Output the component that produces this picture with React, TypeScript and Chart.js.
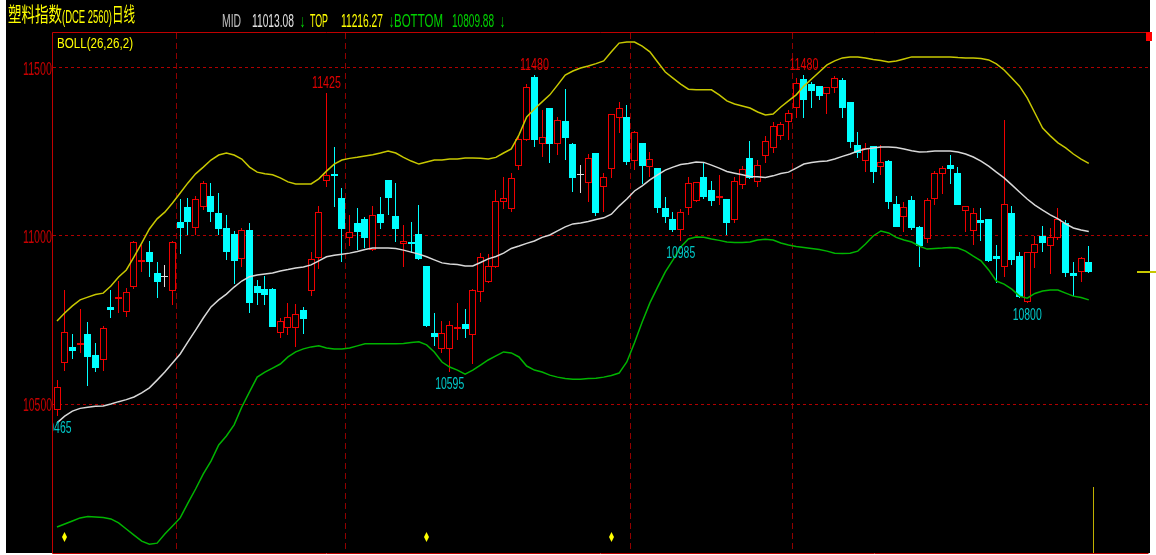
import React, { useEffect, useRef } from 'react';
import { Chart, registerables } from 'chart.js';

Chart.register(...registerables);

// ---- data ----
const open = [10482,10623,10671,10676,10707,10646,10631,10790,10812,10775,10847,10922,10953,10891,10879,10837,11043,11087,11025,11087,11120,11068,11023,11006,10931,11018,10851,10841,10841,10710,10727,10726,10780,10836,10935,11164,11185,11112,10993,11038,11051,10958,11064,11167,11060,10975,10981,11006,10912,10711,10664,10664,10722,10737,10704,10832,10864,10907,11102,11080,11209,11286,11472,11274,11380,11273,11342,11273,11182,11159,11248,11147,11199,11352,11355,11224,11276,11204,11203,11084,11051,11018,11082,11105,11177,11137,11114,11110,11048,11152,11231,11162,11238,11263,11298,11340,11380,11467,11452,11447,11422,11441,11464,11398,11271,11224,11269,11204,11224,11095,11057,11107,11028,10991,11110,11184,11211,11187,11074,11016,11048,11051,10940,10907,11068,10940,10805,10950,11001,10971,10993,11040,10891,10894,10924];
const high = [10571,10839,10708,10782,10744,10681,10732,10839,10867,10844,10986,10972,10986,10924,10913,10985,11109,11112,11119,11165,11157,11129,11062,11015,11023,11040,10869,10881,10844,10755,10802,10798,10788,10953,11089,11425,11264,11142,11062,11084,11057,11089,11117,11167,11157,11033,11043,11092,10912,10770,10748,10747,10801,10782,10842,10948,10946,11137,11176,11187,11296,11451,11480,11375,11380,11355,11437,11276,11211,11244,11248,11187,11362,11400,11390,11312,11277,11251,11203,11117,11072,11080,11176,11161,11216,11164,11182,11110,11176,11208,11284,11226,11298,11340,11340,11375,11469,11480,11459,11447,11444,11477,11471,11398,11309,11276,11269,11271,11226,11119,11102,11119,11030,11114,11193,11208,11241,11206,11090,11084,11084,11051,10973,11345,11090,10953,10952,11000,11031,11023,11084,11048,10924,10938,10970];
const low = [10465,10598,10634,10653,10554,10594,10598,10755,10770,10760,10842,10894,10879,10815,10847,10795,10946,11003,11003,11077,11043,11003,10929,10857,10909,10770,10795,10795,10728,10696,10705,10669,10708,10822,10901,11147,11087,10922,10971,10958,10965,10956,11020,11062,10983,10909,10950,10929,10728,10673,10651,10595,10690,10696,10619,10803,10859,10904,11080,11072,11196,11283,11266,11236,11216,11241,11226,11132,11127,11100,11060,11072,11173,11306,11211,11196,11155,11176,11068,11038,11011,10985,11062,11102,11110,11090,11092,11003,11038,11140,11170,11147,11216,11246,11286,11286,11350,11350,11382,11405,11362,11425,11350,11263,11231,11191,11157,11182,11079,11026,11011,11018,10909,10978,11092,11125,11155,11092,11013,10973,10985,10924,10859,10877,10914,10815,10800,10904,10953,10886,10988,10879,10822,10864,10889];
const close = [10552,10714,10659,10682,10639,10606,10727,10780,10818,10833,10981,10929,10922,10864,10879,10981,11023,11041,11111,11157,11072,11020,10953,10926,11018,10802,10831,10824,10730,10747,10760,10767,10753,10931,11070,11181,11180,11020,11013,11011,10995,11062,11040,11114,11020,10984,10975,10931,10732,10700,10710,10735,10728,10724,10839,10937,10912,11104,11112,11173,11288,11443,11286,11296,11273,11345,11291,11172,11182,11231,11068,11177,11362,11382,11219,11309,11208,11229,11084,11056,11018,11070,11157,11160,11117,11104,11120,11038,11165,11198,11172,11211,11284,11328,11332,11365,11454,11405,11432,11417,11443,11471,11380,11281,11248,11263,11191,11219,11102,11028,11087,11023,10970,11107,11187,11201,11198,11092,11090,11068,11040,10926,10931,11094,10929,10818,10951,10976,10978,10998,11050,10889,10881,10935,10892];

const bollMid = [10444,10464,10479,10487,10490,10493,10494,10500,10507,10513,10521,10533,10548,10571,10595,10622,10649,10685,10720,10756,10789,10810,10827,10848,10866,10879,10884,10887,10890,10896,10900,10905,10908,10914,10926,10938,10943,10946,10949,10954,10960,10964,10964,10964,10963,10958,10952,10946,10938,10929,10920,10917,10915,10911,10911,10921,10932,10939,10949,10963,10970,10978,10985,10996,11003,11015,11027,11036,11039,11043,11049,11054,11065,11089,11110,11134,11149,11167,11182,11196,11205,11213,11216,11220,11219,11211,11202,11192,11187,11182,11177,11176,11174,11179,11186,11190,11202,11214,11219,11222,11223,11229,11237,11244,11253,11259,11262,11265,11265,11263,11259,11254,11250,11251,11253,11253,11253,11250,11244,11235,11223,11208,11190,11173,11152,11131,11110,11092,11077,11063,11051,11036,11024,11018,11013.08];
const bollUpper = [10747,10771,10792,10810,10818,10826,10830,10851,10878,10899,10938,10979,11021,11051,11071,11098,11128,11158,11185,11205,11226,11241,11247,11241,11229,11205,11190,11185,11182,11173,11161,11155,11155,11155,11170,11193,11214,11226,11231,11234,11238,11242,11247,11253,11247,11234,11223,11214,11220,11226,11226,11229,11229,11232,11232,11231,11229,11234,11247,11259,11301,11354,11378,11399,11420,11449,11479,11491,11500,11506,11513,11521,11548,11574,11577,11577,11565,11548,11518,11488,11470,11452,11437,11435,11435,11435,11420,11402,11393,11387,11381,11369,11360,11363,11384,11402,11420,11446,11467,11488,11509,11521,11530,11533,11533,11530,11525,11522,11518,11521,11527,11533,11533,11533,11533,11533,11533,11531,11530,11530,11528,11524,11512,11494,11470,11446,11411,11366,11321,11298,11277,11262,11244,11229,11216.27];
const bollLower = [10134,10143,10152,10161,10165,10164,10162,10158,10146,10128,10110,10092,10083,10086,10113,10137,10161,10205,10247,10292,10330,10378,10405,10438,10491,10536,10580,10595,10607,10619,10640,10655,10664,10670,10673,10667,10664,10664,10667,10673,10679,10679,10679,10679,10679,10680,10683,10685,10676,10655,10625,10610,10601,10589,10601,10616,10631,10643,10655,10652,10640,10613,10601,10595,10586,10580,10576,10574,10574,10576,10577,10580,10585,10592,10625,10682,10744,10801,10848,10893,10929,10967,10991,10997,10996,10991,10987,10982,10981,10981,10982,10988,10990,10988,10979,10973,10969,10966,10963,10960,10955,10949,10948,10949,10955,10976,11000,11015,11009,10996,10988,10982,10970,10961,10963,10964,10966,10964,10955,10940,10926,10899,10866,10857,10842,10821,10815,10829,10836,10839,10839,10830,10821,10817,10809.88];

const yTicks = [10500, 11000, 11500];
const periodBreaks = [16.5, 38.5, 75.5, 96.5];
const peakIdx = [36, 63, 98];
const troughIdx = [1, 52, 82, 127];
const signalIdx = [2, 49, 73];
const titleParts = ['塑料指数', '(DCE 2560)', '日线'];
const headerLabels = ['MID', 'TOP', 'BOTTOM'];
const headerValues = ['11013.08', '11216.27', '10809.88'];
const indicatorName = 'BOLL(26,26,2)';

const UP = '#f00000';
const DOWN = '#00ffff';
const DOJI = '#e0e0e0';
const LATIN = '"Liberation Sans", "DejaVu Sans", sans-serif';
const CJK = '"Noto Sans CJK SC", sans-serif';

function fitText(ctx: CanvasRenderingContext2D, text: string, x: number, baseline: number, width: number, font: string, color: string) {
  ctx.save();
  ctx.font = font;
  const w = ctx.measureText(text).width || 1;
  ctx.translate(x, baseline);
  ctx.scale(width / w, 1);
  ctx.fillStyle = color;
  ctx.textAlign = 'left';
  ctx.textBaseline = 'alphabetic';
  ctx.fillText(text, 0, 0);
  ctx.restore();
}

// snap bar elements to whole pixels so candles stay crisp
const snapPlugin = {
  id: 'snap',
  afterDatasetsUpdate(chart: any) {
    chart.data.datasets.forEach((_: any, di: number) => {
      const meta = chart.getDatasetMeta(di);
      if (meta.type !== 'bar') return;
      meta.data.forEach((el: any) => {
        el.x = Math.floor(el.x) + 0.5;
        const y = Math.round(el.y);
        let b = Math.round(el.base);
        if (Math.abs(y - b) < 1) b = y + 1;
        el.y = y;
        el.base = b;
        el.height = b - y;
      });
    });
  },
};

const decorPlugin = {
  id: 'decor',
  beforeDraw(chart: any) {
    const ctx = chart.ctx as CanvasRenderingContext2D;
    ctx.save();
    ctx.fillStyle = '#ffffff';
    ctx.fillRect(0, 0, chart.width, chart.height);
    ctx.fillStyle = '#000000';
    ctx.fillRect(6, 0, 1144, 553);
    ctx.restore();
  },
  afterDraw(chart: any) {
    const ctx = chart.ctx as CanvasRenderingContext2D;
    const { left, top, right, bottom } = chart.chartArea;
    const xs = chart.scales.x;
    const ys = chart.scales.y;

    // frame
    ctx.save();
    ctx.strokeStyle = '#c00000';
    ctx.lineWidth = 1;
    ctx.beginPath();
    ctx.moveTo(Math.round(left) - 0.5, Math.round(bottom) + 0.5);
    ctx.lineTo(Math.round(left) - 0.5, Math.round(top) - 0.5);
    ctx.lineTo(Math.round(right) + 0.5, Math.round(top) - 0.5);
    ctx.moveTo(Math.round(left) - 0.5, Math.round(bottom) + 0.5);
    ctx.lineTo(Math.round(right) + 0.5, Math.round(bottom) + 0.5);
    ctx.stroke();
    ctx.fillStyle = '#ff0000';
    ctx.fillRect(1146, 32, 6, 9);
    ctx.restore();

    // y tick labels
    yTicks.forEach((v) => {
      const y = ys.getPixelForValue(v);
      fitText(ctx, String(v), 23, y + 7, 29, `18px ${LATIN}`, '#c80000');
    });

    // header
    fitText(ctx, titleParts[0], 8, 22, 54, `20px ${CJK}`, '#ffff00');
    fitText(ctx, titleParts[1], 62, 23, 50, `18px ${LATIN}`, '#ffff00');
    fitText(ctx, titleParts[2], 112, 22, 23, `20px ${CJK}`, '#ffff00');

    const hb = 27;
    const hf = `18px ${LATIN}`;
    fitText(ctx, headerLabels[0], 222, hb, 19, hf, '#c0c0c0');
    fitText(ctx, headerValues[0], 252, hb, 42, hf, '#e0e0e0');
    fitText(ctx, '↓', 300, hb, 5, hf, '#00e000');
    fitText(ctx, headerLabels[1], 310, hb, 18, hf, '#ffff00');
    fitText(ctx, headerValues[1], 341, hb, 42, hf, '#ffff00');
    fitText(ctx, '↓', 389, hb, 5, hf, '#00e000');
    fitText(ctx, headerLabels[2], 394, hb, 49, hf, '#00d000');
    fitText(ctx, headerValues[2], 452, hb, 42, hf, '#00d000');
    fitText(ctx, '↓', 500, hb, 5, hf, '#00e000');

    fitText(ctx, indicatorName, 57, 48, 76, `15px ${LATIN}`, '#ffff00');

    // extreme labels
    ctx.save();
    ctx.beginPath();
    ctx.rect(left, top, right - left, bottom - top);
    ctx.clip();
    peakIdx.forEach((i) => {
      const x = xs.getPixelForValue(i);
      const y = ys.getPixelForValue(high[i - 1]);
      fitText(ctx, String(high[i - 1]), x - 14.5, y - 5, 29, `17px ${LATIN}`, '#e00000');
    });
    troughIdx.forEach((i) => {
      const x = xs.getPixelForValue(i);
      const y = ys.getPixelForValue(low[i - 1]);
      fitText(ctx, String(low[i - 1]), x - 14.5, y + 17, 29, `17px ${LATIN}`, '#00c8c8');
    });

    // signal diamonds
    ctx.fillStyle = '#ffff00';
    signalIdx.forEach((i) => {
      const x = Math.floor(xs.getPixelForValue(i)) + 0.5;
      const y = 537;
      ctx.beginPath();
      ctx.moveTo(x, y - 5);
      ctx.lineTo(x + 2.5, y);
      ctx.lineTo(x, y + 5);
      ctx.lineTo(x - 2.5, y);
      ctx.closePath();
      ctx.fill();
    });
    ctx.restore();

    // current bar marker and last price tick
    ctx.save();
    const xm = Math.round(xs.getPixelForValue(close.length + 0.55)) + 0.5;
    ctx.strokeStyle = '#c0b000';
    ctx.lineWidth = 1;
    ctx.beginPath();
    ctx.moveTo(xm, 487);
    ctx.lineTo(xm, bottom);
    ctx.stroke();
    const yl = Math.round(ys.getPixelForValue(close[close.length - 1]));
    ctx.strokeStyle = '#c8c800';
    ctx.lineWidth = 2;
    ctx.beginPath();
    ctx.moveTo(1137, yl);
    ctx.lineTo(1156, yl);
    ctx.stroke();
    ctx.restore();
  },
};

export default function App() {
  const ref = useRef<HTMLCanvasElement | null>(null);

  useEffect(() => {
    if (!ref.current) return;
    const idx = open.map((_, i) => i + 1);
    const col = idx.map((_, i) => (close[i] > open[i] ? UP : close[i] < open[i] ? DOWN : DOJI));
    const fill = idx.map((_, i) => (close[i] > open[i] ? '#000000' : col[i]));

    const chart = new Chart(ref.current, {
      type: 'bar',
      data: {
        datasets: [
          {
            type: 'line',
            label: 'MID',
            data: idx.map((x, i) => ({ x, y: bollMid[i] })),
            borderColor: '#d8d8d8',
            borderWidth: 1.5,
            pointRadius: 0,
            tension: 0,
            order: 0,
          } as any,
          {
            type: 'line',
            label: 'TOP',
            data: idx.map((x, i) => ({ x, y: bollUpper[i] })),
            borderColor: '#c8c800',
            borderWidth: 1.5,
            pointRadius: 0,
            tension: 0,
            order: 0,
          } as any,
          {
            type: 'line',
            label: 'BOTTOM',
            data: idx.map((x, i) => ({ x, y: bollLower[i] })),
            borderColor: '#00b400',
            borderWidth: 1.5,
            pointRadius: 0,
            tension: 0,
            order: 0,
          } as any,
          {
            type: 'bar',
            label: 'body',
            data: idx.map((x, i) => ({ x, y: [open[i], close[i]] })),
            backgroundColor: fill,
            borderColor: col,
            borderWidth: 1,
            borderSkipped: false,
            barThickness: 7,
            minBarLength: 1,
            inflateAmount: 0,
            grouped: false,
            order: 1,
          } as any,
          {
            type: 'bar',
            label: 'wick',
            data: idx.map((x, i) => ({ x, y: [low[i], high[i]] })),
            backgroundColor: col,
            borderWidth: 0,
            barThickness: 1,
            minBarLength: 1,
            inflateAmount: 0,
            grouped: false,
            order: 2,
          } as any,
        ],
      },
      options: {
        responsive: false,
        animation: false,
        events: [],
        layout: { padding: { left: 53, top: 33, right: 8, bottom: 2 } },
        plugins: { legend: { display: false }, tooltip: { enabled: false } },
        scales: {
          x: {
            type: 'linear',
            min: 0.4805,
            max: 142.69,
            offset: false,
            afterBuildTicks: (s: any) => {
              s.ticks = periodBreaks.map((v) => ({ value: v }));
            },
            afterFit: (s: any) => {
              s.height = 0;
            },
            ticks: { display: false },
            grid: { color: '#900000', lineWidth: 1, drawTicks: false, offset: false },
            border: { display: false, dash: [6, 4] },
          },
          y: {
            type: 'linear',
            min: 10056.6,
            max: 11604.1,
            afterBuildTicks: (s: any) => {
              s.ticks = yTicks.map((v) => ({ value: v }));
            },
            afterFit: (s: any) => {
              s.width = 0;
            },
            ticks: { display: false },
            grid: { color: '#b00000', lineWidth: 1, drawTicks: false },
            border: { display: false, dash: [3, 3] },
          },
        },
      } as any,
      plugins: [snapPlugin, decorPlugin],
    });
    return () => chart.destroy();
  }, []);

  return (
    <div style={{ position: 'absolute', left: 0, top: 0, width: 1156, height: 555, background: '#fff' }}>
      <canvas ref={ref} width={1156} height={555} style={{ display: 'block' }} />
    </div>
  );
}
